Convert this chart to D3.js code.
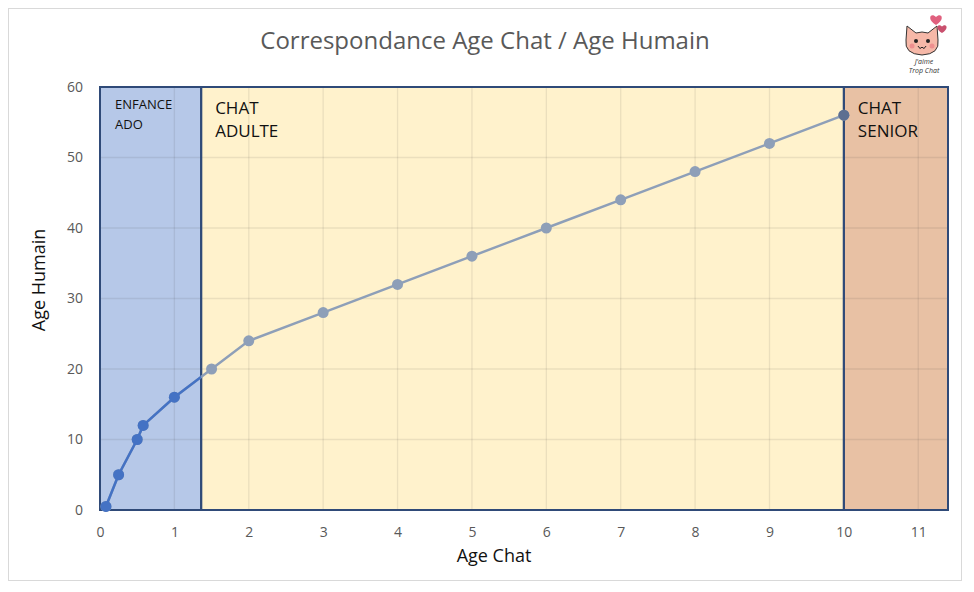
<!DOCTYPE html>
<html>
<head>
<meta charset="utf-8">
<script src="https://cdn.jsdelivr.net/npm/d3@7"></script>
<style>
body { margin: 0; background: #fff; }
text { font-family: "Open Sans", "Noto Sans", sans-serif; }
</style>
</head>
<body>
<svg id="chart" width="974" height="592"></svg>
<script>
let width = 974;
let height = 592;

// cat age -> human age
let ageChat = [0.08, 0.25, 0.5, 0.58, 1, 1.5, 2, 3, 4, 5, 6, 7, 8, 9, 10];
let ageHumain = [0.5, 5, 10, 12, 16, 20, 24, 28, 32, 36, 40, 44, 48, 52, 56];

let bandStart = [0, 1.36, 10];
let bandEnd = [1.36, 10, 11.4];
let bandColor = ["#b6c8e8", "#fff2cc", "#e8c1a4"];
let bandLabel = [["ENFANCE", "ADO"], ["CHAT", "ADULTE"], ["CHAT", "SENIOR"]];

let xTicks = [0, 1, 2, 3, 4, 5, 6, 7, 8, 9, 10, 11];
let yTicks = [0, 10, 20, 30, 40, 50, 60];

let margin = {left: 100, right: 26, top: 87, bottom: 82};

let svg = d3.select("#chart");

svg.append("rect")
    .attr("x", 8.5).attr("y", 8.5)
    .attr("width", 953).attr("height", 572)
    .attr("fill", "white")
    .attr("stroke", "#d9d9d9");

let x = d3.scaleLinear().domain([0, 11.4]).range([margin.left, width - margin.right]);
let y = d3.scaleLinear().domain([0, 60]).range([height - margin.bottom, margin.top]);

// bands
let bands = svg.append("g");
bandStart.forEach(function (s, i) {
    bands.append("rect")
        .attr("x", x(s)).attr("y", y(60))
        .attr("width", x(bandEnd[i]) - x(s))
        .attr("height", y(0) - y(60))
        .attr("fill", bandColor[i]);
});

// gridlines
let grid = svg.append("g").attr("stroke", "rgba(60,60,60,0.1)").attr("stroke-width", 1.3);
xTicks.forEach(function (t) {
    grid.append("line").attr("x1", x(t)).attr("x2", x(t)).attr("y1", y(0)).attr("y2", y(60));
});
yTicks.forEach(function (t) {
    grid.append("line").attr("x1", x(0)).attr("x2", x(11.4)).attr("y1", y(t)).attr("y2", y(t));
});

// band borders
bandStart.forEach(function (s, i) {
    svg.append("rect")
        .attr("x", x(s)).attr("y", y(60))
        .attr("width", x(bandEnd[i]) - x(s))
        .attr("height", y(0) - y(60))
        .attr("fill", "none")
        .attr("stroke", "#2f4a78")
        .attr("stroke-width", 2);
});

// band labels
bandLabel.forEach(function (lab, i) {
    let small = i === 0;
    let t = svg.append("text")
        .attr("x", x(bandStart[i]) + (small ? 15 : 14))
        .attr("y", y(60) + (small ? 22 : 27))
        .attr("font-size", small ? 13 : 17)
        .attr("fill", "#111");
    lab.forEach(function (l, j) {
        t.append("tspan").attr("x", x(bandStart[i]) + (small ? 15 : 14))
            .attr("dy", j === 0 ? 0 : (small ? 20 : 23)).text(l);
    });
});

// line, grey over everything, blue inside the first band
let pts = ageChat.map(function (d, i) { return [d, ageHumain[i]]; });
let line = d3.line().x(function (d) { return x(d[0]); }).y(function (d) { return y(d[1]); });

svg.append("defs").append("clipPath").attr("id", "clipBlue")
    .append("rect")
    .attr("x", 0).attr("y", 0)
    .attr("width", x(bandEnd[0])).attr("height", height);

function drawSeries(g, color) {
    g.append("path").datum(pts)
        .attr("d", line)
        .attr("fill", "none")
        .attr("stroke", color)
        .attr("stroke-width", 2.5);
    g.selectAll("circle").data(pts).enter().append("circle")
        .attr("cx", function (d) { return x(d[0]); })
        .attr("cy", function (d) { return y(d[1]); })
        .attr("r", 5.5)
        .attr("fill", color);
}
drawSeries(svg.append("g"), "#8e9fb8");
drawSeries(svg.append("g").attr("clip-path", "url(#clipBlue)"), "#4472c4");
svg.append("circle").attr("cx", x(10)).attr("cy", y(56)).attr("r", 5.5).attr("fill", "#5d6f91");

// axes
let xAxis = svg.append("g")
    .attr("transform", "translate(0," + y(0) + ")")
    .call(d3.axisBottom(x).tickValues(xTicks).tickSize(0).tickPadding(17).tickFormat(d3.format("d")));
let yAxis = svg.append("g")
    .attr("transform", "translate(" + x(0) + ",0)")
    .call(d3.axisLeft(y).tickValues(yTicks).tickSize(0).tickPadding(17));
[xAxis, yAxis].forEach(function (a) {
    a.select(".domain").remove();
    a.selectAll("text").attr("font-size", 14).attr("fill", "#595959")
        .attr("font-family", "'Open Sans', sans-serif");
});

// titles
svg.append("text")
    .attr("x", 485).attr("y", 49)
    .attr("text-anchor", "middle")
    .attr("font-size", 24)
    .attr("fill", "#595959")
    .text("Correspondance Age Chat / Age Humain");

svg.append("text")
    .attr("x", 494).attr("y", 562)
    .attr("text-anchor", "middle")
    .attr("font-size", 18)
    .attr("fill", "#111")
    .text("Age Chat");

svg.append("text")
    .attr("transform", "translate(45,280) rotate(-90)")
    .attr("text-anchor", "middle")
    .attr("font-size", 18)
    .attr("fill", "#111")
    .text("Age Humain");

// little cat logo
let logo = svg.append("g").attr("transform", "translate(922,42)");
logo.append("path")
    .attr("d", "M-16,-2 L-15,-16 L-6,-9 Q0,-11 6,-9 L15,-16 L16,-2 Q18,12 0,13 Q-18,12 -16,-2 Z")
    .attr("fill", "#f6b8a8").attr("stroke", "#333").attr("stroke-width", 1);
logo.append("circle").attr("cx", -6).attr("cy", -1).attr("r", 2).attr("fill", "#222");
logo.append("circle").attr("cx", 6).attr("cy", -1).attr("r", 2).attr("fill", "#222");
logo.append("circle").attr("cx", -10).attr("cy", 4).attr("r", 2.5).attr("fill", "#ee8f8f");
logo.append("circle").attr("cx", 10).attr("cy", 4).attr("r", 2.5).attr("fill", "#ee8f8f");
logo.append("path").attr("d", "M-4,4 Q-2,8 0,5 Q2,8 4,4")
    .attr("fill", "none").attr("stroke", "#222").attr("stroke-width", 1);
function heart(g, cx, cy, s, c) {
    g.append("path")
        .attr("d", "M" + cx + "," + (cy + s) + " C" + (cx - 2 * s) + "," + (cy - 0.2 * s) + " " + (cx - s) + "," + (cy - 1.6 * s) + " " + cx + "," + (cy - 0.6 * s) +
            " C" + (cx + s) + "," + (cy - 1.6 * s) + " " + (cx + 2 * s) + "," + (cy - 0.2 * s) + " " + cx + "," + (cy + s) + " Z")
        .attr("fill", c);
}
heart(logo, 14, -22, 5, "#e0607e");
heart(logo, 20, -13, 4, "#c9506e");
logo.append("text").attr("x", 2).attr("y", 22).attr("text-anchor", "middle")
    .attr("font-size", 7).attr("font-style", "italic").attr("fill", "#333").text("J'aime");
logo.append("text").attr("x", 2).attr("y", 31).attr("text-anchor", "middle")
    .attr("font-size", 7).attr("font-style", "italic").attr("fill", "#333").text("Trop Chat");
</script>
</body>
</html>
